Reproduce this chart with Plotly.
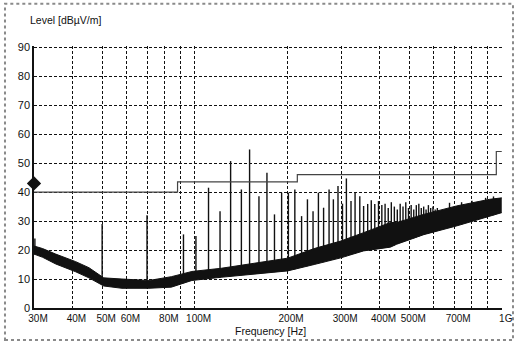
import numpy as np
import plotly.graph_objects as go

# ---- data ----
# noise-floor band (frequency in MHz, lower and upper edge in dBuV/m)
band_freq = [30, 32, 35.3, 41, 45.3, 50.6, 58, 71, 84, 98, 122, 157, 201, 245, 299, 355, 434, 455, 557, 712, 913, 1000]
band_low  = [18.6, 17.5, 15.2, 12.5, 10.4, 7.6, 6.8, 6.8, 7.2, 9.5, 10.6, 11.8, 12.8, 15.0, 17.3, 19.7, 21.0, 22.0, 25.3, 28.3, 31.6, 32.9]
band_high = [21.4, 20.5, 18.6, 16.0, 13.9, 10.4, 10.0, 9.5, 10.8, 12.6, 13.7, 15.4, 17.2, 20.5, 23.1, 26.0, 29.5, 29.5, 32.3, 35.2, 37.5, 38.0]

# narrow-band emissions (frequency MHz, peak dBuV/m)
spike_freq = [30.2, 50, 70, 92, 101, 111, 121, 131, 142, 151, 162, 172, 182, 192,
              202, 212, 223, 233, 243, 253, 263, 274, 283, 293, 303, 312, 323, 333,
              345, 355, 366, 376, 386, 397, 407, 417, 427, 437, 447, 457, 467, 477,
              487, 497, 507, 517, 527, 537, 547, 557, 567, 577, 587, 597, 607, 617,
              676, 740, 800, 886, 940]
spike_peak = [24.0, 29.0, 32.0, 25.4, 24.8, 41.5, 33.4, 50.7, 40.9, 54.7, 38.6, 46.7, 32.3, 39.8,
              39.8, 40.9, 31.7, 37.5, 33.4, 39.8, 34.6, 40.9, 37.5, 42.1, 36.0, 44.7, 36.9, 39.8,
              38.6, 35.2, 35.9, 37.2, 35.9, 36.9, 35.5, 36.0, 34.5, 36.5, 35.0, 34.0, 36.0, 35.0,
              36.5, 34.5, 35.5, 34.0, 35.5, 36.0, 34.5, 35.0, 34.0, 35.5, 34.5, 35.0, 34.0, 34.5,
              36.3, 36.5, 37.0, 38.0, 38.5]

# limit line (frequency MHz, dBuV/m) as steps
limit_freq = [30, 88, 88, 216, 216, 960, 960, 1000]
limit_val  = [40, 40, 43.5, 43.5, 46, 46, 54, 54]

marker_freq = [30]
marker_val = [43]

x_tick_vals = [30, 40, 50, 60, 80, 100, 200, 300, 400, 500, 700, 1000]
x_tick_text = ["30M", "40M", "50M", "60M", "80M", "100M", "200M", "300M", "400M", "500M", "700M", "1G"]
x_minor_vals = [70, 90, 600, 800, 900]
y_tick_vals = [0, 10, 20, 30, 40, 50, 60, 70, 80, 90]

# ---- figure ----
FONT = "Liberation Sans Narrow, Arial Narrow, Liberation Sans, Arial, sans-serif"
INK = "#111111"
GRID = dict(showgrid=True, gridcolor=INK, gridwidth=1, griddash="3px,2px")
fig = go.Figure()

# spikes as vertical strokes starting at the bottom edge of the noise band
lf = np.log10(band_freq)
sx, sy = [], []
for f, p in zip(spike_freq, spike_peak):
    base = float(np.interp(np.log10(f), lf, band_low))
    sx += [f, f, None]
    sy += [base, p, None]
fig.add_trace(go.Scatter(x=sx, y=sy, mode="lines", line=dict(color=INK, width=1.4),
                         showlegend=False, hoverinfo="skip"))

# noise band
fig.add_trace(go.Scatter(x=band_freq, y=band_low, mode="lines", line=dict(color=INK, width=1),
                         showlegend=False, hoverinfo="skip"))
fig.add_trace(go.Scatter(x=band_freq, y=band_high, mode="lines", line=dict(color=INK, width=1),
                         fill="tonexty", fillcolor=INK, showlegend=False, hoverinfo="skip"))

# limit line
fig.add_trace(go.Scatter(x=limit_freq, y=limit_val, mode="lines", line=dict(color="#444444", width=1.2),
                         showlegend=False, hoverinfo="skip"))

# marker
fig.add_trace(go.Scatter(x=marker_freq, y=marker_val, mode="markers",
                         marker=dict(symbol="diamond", size=11, color=INK),
                         showlegend=False, hoverinfo="skip", cliponaxis=False))

fig.update_xaxes(type="log", range=[np.log10(30), np.log10(1000) + 0.0008], automargin=False,
                 tickvals=x_tick_vals, ticktext=x_tick_text, ticks="", tickangle=0,
                 ticklabelshift=4, **GRID,
                 minor=dict(tickvals=x_minor_vals, ticks="", **GRID),
                 showline=True, linecolor=INK, linewidth=1.5,
                 zeroline=False, tickfont=dict(family=FONT, size=10, color=INK))
fig.update_yaxes(range=[0, 90.4], tickvals=y_tick_vals, ticks="", automargin=False, **GRID,
                 showline=True, linecolor=INK, linewidth=1.5,
                 zeroline=False, tickfont=dict(family=FONT, size=11, color=INK))

fig.add_annotation(text="Level [dBµV/m]", xref="paper", yref="paper", x=-0.013, y=1.099,
                   xanchor="left", yanchor="middle", showarrow=False,
                   font=dict(family=FONT, size=10.5, color=INK))
fig.add_annotation(text="Frequency [Hz]", xref="paper", yref="paper", x=0.506, y=-0.086,
                   xanchor="center", yanchor="middle", showarrow=False,
                   font=dict(family=FONT, size=10.5, color=INK))

# outer dotted frame
fig.add_shape(type="rect", xref="paper", yref="paper", x0=-0.062, x1=1.0235, y0=-0.1226, y1=1.161,
              line=dict(color="#8a8a8a", width=2, dash="dot"), layer="below")

fig.update_layout(width=518, height=347, margin=dict(l=34, r=16, t=46, b=39, autoexpand=False),
                  paper_bgcolor="white", plot_bgcolor="white", showlegend=False)

fig.write_html("out.html", config={"displayModeBar": False},
               post_script="document.body.style.margin='0';")
